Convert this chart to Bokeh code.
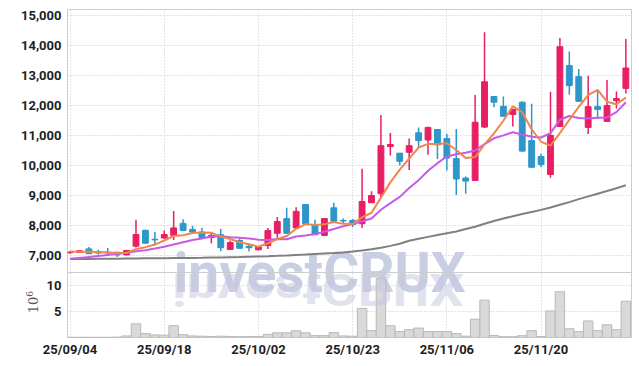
import math
from bokeh.plotting import figure
from bokeh.models import (Range1d, FixedTicker, NumeralTickFormatter, ColumnDataSource,
                          Label, Div, Span)
from bokeh.embed import file_html
from bokeh.resources import INLINE
import pandas as pd

# ---- data ----
opens = [7090, 7100, 7220, 7130, 7110, 7110, 7020, 7310, 7840, 7540,
         7580, 7670, 8070, 7870, 7780, 7600, 7690, 7200, 7500, 7310,
         7190, 7330, 7740, 8230, 7920, 8700, 8030, 7670, 8590, 8170,
         8170, 8060, 8760, 9060, 10630, 10410, 10440, 11090, 10850, 11200,
         10900, 10230, 9580, 9500, 11280, 12300, 11970, 11700, 12110, 10830,
         10300, 9700, 11300, 13330, 12960, 11270, 11960, 11470, 12160, 12570]
closes = [7110, 7160, 7060, 7080, 7090, 7020, 7170, 7700, 7410, 7520,
          7700, 7920, 7830, 7780, 7600, 7670, 7260, 7430, 7240, 7260,
          7280, 7830, 8130, 7740, 8470, 8060, 7690, 8230, 8140, 8150,
          8030, 8800, 9000, 10660, 10700, 10140, 10660, 10830, 11270, 10690,
          10250, 9550, 9480, 11440, 12790, 12110, 11640, 11870, 10480, 9940,
          10030, 11000, 13960, 12660, 12140, 11960, 11870, 12000, 12230, 13250]
highs = [7150, 7180, 7280, 7190, 7250, 7120, 7180, 8190, 7860, 7780,
         7830, 8480, 8210, 7990, 7920, 7780, 7880, 7500, 7560, 7360,
         7300, 7920, 8280, 8590, 8610, 8710, 8190, 8240, 8760, 8230,
         8220, 9890, 9140, 11680, 11080, 10420, 10900, 11270, 11290, 11210,
         11050, 11220, 9630, 12350, 14440, 12310, 12300, 11880, 12130, 12060,
         10390, 12460, 14250, 13800, 13220, 12990, 12500, 12850, 12470, 14220]
lows = [7060, 7080, 7050, 7030, 7050, 6950, 7010, 7270, 7400, 7330,
        7560, 7520, 7820, 7770, 7590, 7410, 7140, 7190, 7230, 7130,
        7170, 7220, 7590, 7730, 7910, 8040, 7680, 7660, 8130, 8060,
        7940, 7920, 8740, 8950, 10330, 10000, 9850, 10600, 10360, 10220,
        9830, 9020, 9060, 9480, 11250, 11940, 11630, 11300, 10460, 9930,
        9940, 9590, 11280, 12360, 12130, 11050, 11550, 11460, 11900, 12400]
volumes = [0.05, 0.05, 0.06, 0.04, 0.05, 0.08, 0.3, 2.64, 0.75, 0.5,
           0.45, 2.26, 0.55, 0.3, 0.25, 0.2, 0.25, 0.2, 0.15, 0.2,
           0.2, 0.6, 0.9, 0.9, 1.3, 0.9, 0.35, 0.35, 0.94, 0.3,
           0.25, 5.6, 1.32, 11.3, 2.26, 1.13, 1.5, 1.82, 1.13, 1.13,
           1.13, 0.75, 0.25, 3.52, 7.17, 0.4, 0.15, 0.15, 0.35, 1.32,
           0.2, 5.1, 8.8, 1.67, 1.12, 3.18, 1.32, 2.45, 1.5, 6.98]
# moving-average values before enough closes exist
ma5_head = [7133, 7128, 7124, 7120]
ma10_head = [6890, 6920, 6950, 6985, 7020, 7055, 7090, 7140, 7175]
ma60 = [6880, 6883, 6886, 6889, 6892, 6895, 6898, 6901, 6904, 6907,
        6910, 6913, 6916, 6920, 6924, 6930, 6936, 6943, 6950, 6958,
        6966, 6976, 6988, 7002, 7017, 7032, 7048, 7064, 7080, 7100,
        7130, 7170, 7210, 7260, 7320, 7390, 7490, 7560, 7620, 7680,
        7740, 7800, 7880, 7960, 8060, 8150, 8230, 8310, 8380, 8450,
        8520, 8600, 8690, 8780, 8880, 8970, 9060, 9150, 9240, 9340]
tick_idx = [0, 10, 20, 30, 40, 50]
tick_labels = ["25/09/04", "25/09/18", "25/10/02", "25/10/23", "25/11/06", "25/11/20"]
price_ticks = [7000, 8000, 9000, 10000, 11000, 12000, 13000, 14000, 15000]
vol_ticks = [5, 10]

# ---- derived ----
idx = list(range(len(closes)))
cs = pd.Series(closes, dtype=float)
ma5 = ma5_head + cs.rolling(5).mean().tolist()[4:]
ma10 = ma10_head + cs.rolling(10).mean().tolist()[9:]

UP = "#e91e63"
DOWN = "#2e96c9"
colors = [UP if c >= o else DOWN for o, c in zip(opens, closes)]
src = ColumnDataSource(dict(
    x=idx, o=opens, c=closes, h=highs, l=lows,
    top=[max(o, c) for o, c in zip(opens, closes)],
    bot=[min(o, c) for o, c in zip(opens, closes)],
    col=colors, vol=volumes, ma5=ma5, ma10=ma10, ma60=ma60))

# ---- layout of the two panels inside one frame ----
FRAME_H = 328          # px, whole frame (price + volume)
VOL_H = 65             # px, volume panel
PRICE_TOP = 15200
PRICE_DIV = 6433       # price at the panel divider
VOL_TOP = 12.5         # volume at the panel divider
per_px = (PRICE_TOP - PRICE_DIV) / (FRAME_H - VOL_H)
PRICE_BOTTOM = PRICE_DIV - VOL_H * per_px
vol_end = VOL_TOP * FRAME_H / VOL_H
vol_to_price = lambda vv: PRICE_BOTTOM + vv * (PRICE_DIV - PRICE_BOTTOM) / VOL_TOP
vol_pos = [round(vol_to_price(vv)) for vv in vol_ticks]

TICK_FONT = "Roboto"
GRID_COLOR = "#c4c8da"

p = figure(width=639, height=362, x_range=Range1d(-0.27, 59.6),
           y_range=Range1d(PRICE_BOTTOM, PRICE_TOP),
           output_backend="svg", toolbar_location=None,
           min_border_left=67, min_border_right=8, min_border_top=9, min_border_bottom=25)
p.extra_y_ranges = {"vol": Range1d(0, vol_end)}
p.background_fill_color = "white"
p.border_fill_color = "white"
p.outline_line_color = "#cccccc"

yt = FixedTicker(ticks=price_ticks + vol_pos)
p.xgrid.ticker = FixedTicker(ticks=tick_idx)
p.ygrid.ticker = yt
for g in (p.xgrid, p.ygrid):
    g.grid_line_color = GRID_COLOR
    g.grid_line_dash = "1 2"
    g.grid_line_width = 1

ax = p.yaxis[0]
ax.ticker = yt
ax.formatter = NumeralTickFormatter(format="0,0")
ax.major_label_overrides = {pos: str(vv) for pos, vv in zip(vol_pos, vol_ticks)}
xa = p.xaxis[0]
xa.ticker = FixedTicker(ticks=tick_idx)
xa.major_label_overrides = {t: s for t, s in zip(tick_idx, tick_labels)}
for a in (ax, xa):
    a.axis_line_color = None
    a.major_tick_line_color = None
    a.minor_tick_line_color = None
    a.major_tick_out = 0
    a.major_tick_in = 0
    a.minor_tick_out = 0
    a.minor_tick_in = 0
    a.major_label_standoff = 6
    a.major_label_text_font = TICK_FONT
    a.major_label_text_font_size = "13px"
    a.major_label_text_font_style = "bold"
    a.major_label_text_color = "#1e1e1e"
xa.major_label_standoff = 4

# divider between price and volume panels
p.add_layout(Span(location=PRICE_DIV, dimension="width", line_color="#cccccc", line_width=1))

# watermark
p.add_layout(Label(x=26.5, y=PRICE_DIV, text="investCRUX", text_align="center",
                   text_baseline="alphabetic", text_font="Roboto", text_font_size="55px",
                   text_font_style="bold", text_color="#c9cfe2", level="underlay"))

p.vbar(x="x", top="vol", bottom=0, width=1.0, source=src, y_range_name="vol",
       fill_color="#d9d9d9", line_color="#b8b8b8", line_width=1)
p.segment(x0="x", y0="l", x1="x", y1="h", source=src, line_color="col", line_width=1.5)
p.vbar(x="x", top="top", bottom="bot", width=0.62, source=src, fill_color="col",
       line_color="col", line_width=1)
p.line(x="x", y="ma60", source=src, line_color="#808080", line_width=2)
p.line(x="x", y="ma10", source=src, line_color="#c85ae8", line_width=2)
p.line(x="x", y="ma5", source=src, line_color="#f0864e", line_width=2)

extras = []
try:
    # mirrored (slightly squashed) watermark under the panel divider
    extras.append(Div(text="investCRUX", width=300, height=55,
               styles={"position": "absolute", "left": "172px", "top": "228px",
                       "font-size": "55px", "font-weight": "bold", "font-family": "Roboto",
                       "color": "rgba(198,198,222,0.5)",
                       "transform-origin": "50% 46px", "transform": "scaleY(-0.8)",
                       "line-height": "55px", "pointer-events": "none",
                       "white-space": "nowrap", "z-index": "2"}))
    # volume unit label (rotated)
    extras.append(Div(text="10<sup style='font-size:9px'>6</sup>", width=30, height=16,
               styles={"position": "absolute", "left": "21px", "top": "292px",
                       "font-size": "13px", "font-family": "DejaVu Serif",
                       "color": "#555555", "transform": "rotate(-90deg)",
                       "line-height": "16px", "text-align": "center",
                       "pointer-events": "none", "white-space": "nowrap", "z-index": "2"}))
    p.elements = extras
except Exception:
    pass

open("out.html", "w").write(file_html(p, INLINE))
